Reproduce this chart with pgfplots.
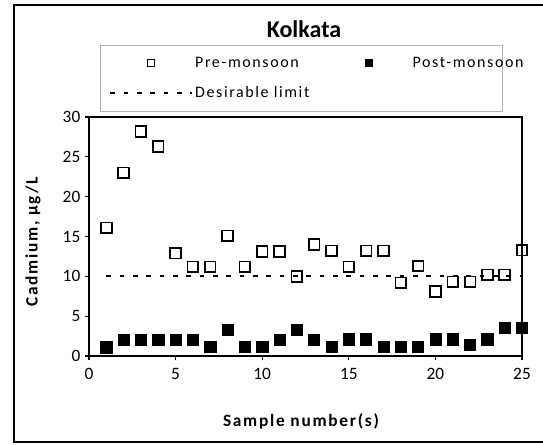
\documentclass[border=0pt]{standalone}
\usepackage{fontspec}
\setmainfont{Carlito}
\newfontfamily\spaced{Carlito}[LetterSpace=10]
\usepackage{pgfplots}
\usepackage{pgfplotstable}
\pgfplotsset{compat=1.18}

% legend glyphs: a single small mark, or a line, in a 61pt wide cell
\pgfplotsset{
  markleg/.style={legend image code/.code={%
    \path (0pt,0pt) (61pt,0pt);
    \draw[##1, mark size=2.6pt, line width=1pt] plot coordinates {(30.5pt,0pt)};}},
  lineleg/.style={legend image code/.code={%
    \draw[##1] (0pt,0pt) -- (61pt,0pt);}},
}

% Cadmium concentration (micrograms per litre) at each sampling site
\pgfplotstableread{
n   pre   post
1   16.1  1.1
2   23.0  2.0
3   28.2  2.0
4   26.3  2.0
5   12.9  2.0
6   11.2  2.0
7   11.2  1.2
8   15.1  3.3
9   11.2  1.2
10  13.1  1.2
11  13.1  2.0
12  10.0  3.3
13  14.0  2.0
14  13.2  1.2
15  11.2  2.1
16  13.2  2.1
17  13.2  1.2
18  9.2   1.2
19  11.3  1.2
20  8.1   2.1
21  9.3   2.1
22  9.3   1.4
23  10.2  2.1
24  10.2  3.5
25  13.3  3.5
}\cdtable

\begin{document}
\begin{tikzpicture}
\path[use as bounding box] (0,0) rectangle (407.25pt,-333.75pt);
% chart frame and legend box
\draw[line width=1.1pt] (10.5pt,-3.75pt) rectangle (430pt,-331.5pt);
\draw[gray!60, line width=0.6pt] (75pt,-33.75pt) rectangle (376.5pt,-83.25pt);
\begin{axis}[
  at={(66.75pt,-267pt)}, anchor=south west,
  scale only axis, width=324.75pt, height=179.25pt,
  xmin=0, xmax=25, ymin=0, ymax=30,
  xtick={0,5,...,25}, ytick={0,5,...,30},
  tick align=outside, xtick pos=bottom, ytick pos=left,
  major tick length=3pt,
  axis line style={line width=1.4pt},
  every tick/.style={black, line width=0.8pt},
  tick label style={font=\fontsize{13}{13}\selectfont},
  xticklabel style={yshift=-3pt},
  /pgf/number format/assume math mode=true,
  clip=false,
  title={Kolkata},
  title style={font=\fontsize{18}{18}\selectfont\bfseries,
    at={(axis description cs:0.4965,1.334)}, anchor=center},
  xlabel={Sample number(s)},
  xlabel style={font=\fontsize{13}{13}\selectfont\spaced\bfseries,
    at={(axis description cs:0.4896,-0.272)}, anchor=center},
  ylabel={Cadmium, μg/L},
  ylabel style={font=\fontsize{13}{13}\selectfont\spaced\bfseries,
    at={(axis description cs:-0.1293,0.477)}, anchor=center},
  legend columns=2,
  legend style={draw=none, fill=none,
    at={(axis description cs:0.0462,1.2636)}, anchor=north west,
    inner sep=0pt, font=\fontsize{12}{12}\selectfont\spaced,
    row sep=9pt, cells={anchor=west},
    /tikz/every even column/.append style={column sep=12pt}},
]
\addplot[only marks, mark=square, mark size=4pt, line width=1.3pt, black, markleg]
  table[x=n, y=pre] {\cdtable};
\addlegendentry{Pre-monsoon}
\addplot[only marks, mark=square*, mark size=4.2pt, black, markleg]
  table[x=n, y=post] {\cdtable};
\addlegendentry{Post-monsoon}
\addplot[black, line width=1.4pt, dash pattern=on 3.5pt off 6.5pt, lineleg]
  coordinates {(1,10) (25,10)};
\addlegendentry{Desirable limit}
\end{axis}
\end{tikzpicture}
\end{document}
